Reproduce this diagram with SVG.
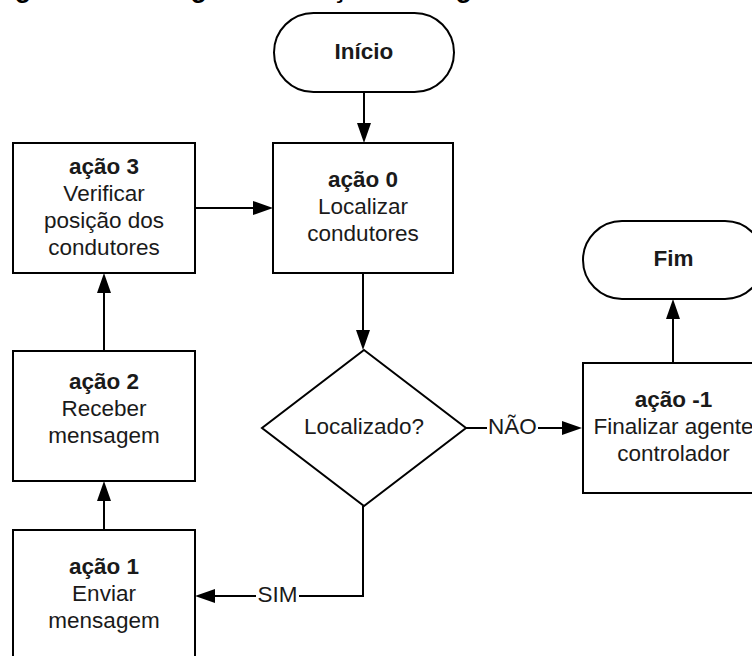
<svg xmlns="http://www.w3.org/2000/svg" width="752" height="656" viewBox="0 0 752 656">
  <style>
    .shape { fill: #ffffff; stroke: #000000; stroke-width: 2; }
    .edge { fill: none; stroke: #000000; stroke-width: 2; }
    text { font-family: "Liberation Sans", Arial, sans-serif; font-size: 22.5px; fill: #1a1a1a; text-anchor: middle; }
    .b { font-weight: bold; }
    .lbl-bg { fill: #ffffff; stroke: none; }
  </style>
  <defs>
    <marker id="arrow" markerUnits="userSpaceOnUse" viewBox="0 0 20 14" refX="10" refY="7" markerWidth="20" markerHeight="14" orient="auto">
      <path d="M0,0 L20,7 L0,14 Z" fill="#000000"/>
    </marker>
  </defs>

  <rect width="752" height="656" fill="#ffffff"/>

  <!-- page heading, mostly above the top edge -->
  <text x="-9" y="-3.5" class="b" style="font-size:26.8px; text-anchor:start; fill:#000">Figura 5 - Fluxograma da ação dos agentes</text>

  <!-- connectors -->
  <g id="connectors">
    <line class="edge" x1="364" y1="92" x2="364" y2="133" marker-end="url(#arrow)"/>
    <line class="edge" x1="363" y1="273" x2="363" y2="340" marker-end="url(#arrow)"/>
    <line class="edge" x1="195" y1="208" x2="263" y2="208" marker-end="url(#arrow)"/>
    <path class="edge" d="M466,428 H572" marker-end="url(#arrow)"/>
    <line class="edge" x1="673" y1="363" x2="673" y2="309" marker-end="url(#arrow)"/>
    <path class="edge" d="M363,506 V596 H205" marker-end="url(#arrow)"/>
    <line class="edge" x1="104" y1="530" x2="104" y2="491" marker-end="url(#arrow)"/>
    <line class="edge" x1="104" y1="351" x2="104" y2="283" marker-end="url(#arrow)"/>
    <g id="label-nao">
      <rect class="lbl-bg" x="487" y="416" width="51" height="24"/>
      <text x="512.5" y="434">NÃO</text>
    </g>
    <g id="label-sim">
      <rect class="lbl-bg" x="256" y="584" width="43" height="24"/>
      <text x="277.5" y="602">SIM</text>
    </g>
  </g>

  <!-- nodes -->
  <g id="inicio">
    <rect class="shape" x="274" y="13" width="180" height="79" rx="39.5" ry="39.5"/>
    <text x="364" y="59" class="b">Início</text>
  </g>

  <g id="acao0">
    <rect class="shape" x="273" y="143" width="180" height="130"/>
    <text x="363" y="187" class="b">ação 0</text>
    <text x="363" y="214">Localizar</text>
    <text x="363" y="241">condutores</text>
  </g>

  <g id="acao3">
    <rect class="shape" x="13" y="143" width="182" height="130"/>
    <text x="104" y="173.5" class="b">ação 3</text>
    <text x="104" y="200.5">Verificar</text>
    <text x="104" y="227.5">posição dos</text>
    <text x="104" y="254.5">condutores</text>
  </g>

  <g id="decisao">
    <polygon class="shape" points="364,350 466,428 364,506 262,428"/>
    <text x="364" y="434">Localizado?</text>
  </g>

  <g id="acao2">
    <rect class="shape" x="13" y="351" width="182" height="130"/>
    <text x="104" y="389" class="b">ação 2</text>
    <text x="104" y="416">Receber</text>
    <text x="104" y="443">mensagem</text>
  </g>

  <g id="acao1">
    <rect class="shape" x="13" y="530" width="182" height="130"/>
    <text x="104" y="574" class="b">ação 1</text>
    <text x="104" y="601">Enviar</text>
    <text x="104" y="628">mensagem</text>
  </g>

  <g id="acao-1">
    <rect class="shape" x="583" y="363" width="181" height="130"/>
    <text x="673.5" y="407" class="b">ação -1</text>
    <text x="673.5" y="434">Finalizar agente</text>
    <text x="673.5" y="461">controlador</text>
  </g>

  <g id="fim">
    <rect class="shape" x="583" y="221" width="181" height="78" rx="39" ry="39"/>
    <text x="673.5" y="266" class="b">Fim</text>
  </g>
</svg>
